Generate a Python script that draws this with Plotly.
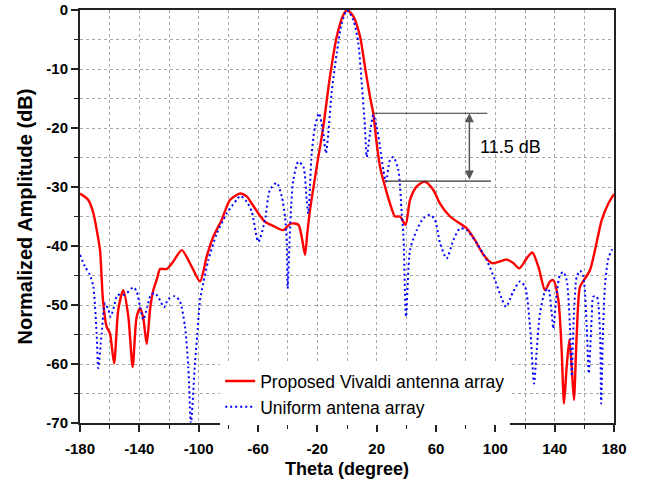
import plotly.graph_objects as go

# Proposed Vivaldi antenna array (red, solid)
theta_prop = [-180, -176.5, -174.4, -171, -168.5, -166.5, -164.5, -162, -159.8, -157,
              -154.2, -150.8, -147.4, -144.5, -141.8, -139.5, -137.5, -135, -132.8, -130.6,
              -128, -126, -121.6, -117.3, -111.4, -104.7, -99.1, -94.6, -90.1, -84.5,
              -78.9, -72, -67.6, -64.2, -58.6, -55.3, -49, -43, -38, -32.8,
              -30.5, -28.3, -26.8, -25, -20.4, -16, -11.5, -6.9, -2.5, 0,
              4.3, 8.8, 12.1, 15.5, 17.7, 20, 22.3, 25.6, 29, 32.4,
              35.7, 39.5, 42.5, 47, 52.6, 58.2, 62.7, 69.5, 76.2, 80.7,
              86.3, 92, 97.6, 102, 107.7, 112.1, 116.2, 121.1, 124.9, 129,
              133.5, 136.9, 139.1, 142.5, 144.7, 146.3, 148.1, 149.9, 151.5, 153,
              154.9, 157.1, 160.5, 163.8, 167.2, 171.7, 176.2, 180]
amp_prop = [-31.1, -31.7, -32.2, -34.4, -37.6, -40.7, -49.2, -53.7, -54.8, -59.9,
            -50.8, -47.5, -52.0, -60.5, -52.0, -50.6, -52.0, -56.6, -50.8, -47.5,
            -45.5, -43.9, -43.9, -42.7, -40.7, -43.5, -46.0, -41.8, -38.4, -35.6,
            -32.2, -31.1, -31.6, -32.8, -34.9, -35.9, -36.7, -37.3, -36.2, -36.4,
            -38.5, -41.5, -37.9, -34.0, -26.6, -19.8, -11.3, -4.5, -0.85, 0,
            -1.1, -4.5, -9.6, -14.7, -17.5, -22.6, -26.6, -29.9, -32.8, -35.0,
            -35.0, -36.4, -32.2, -29.9, -29.1, -30.5, -32.8, -35.0, -36.2, -37.0,
            -39.0, -41.5, -42.9, -42.7, -42.3, -42.9, -43.8, -42.1, -41.1, -43.5,
            -47.5, -46.0, -45.8, -49.2, -57.6, -66.7, -60.5, -55.9, -60.5, -66.1,
            -54.8, -46.9, -45.5, -44.1, -40.7, -35.6, -32.8, -31.2]

# Uniform antenna array (blue, dotted)
theta_uni = [-180, -176.6, -173.3, -171, -168.8, -167.7, -165.4, -163.1, -160.9, -159.3,
             -157.1, -154.8, -150.8, -148.5, -144, -141.8, -139.5, -137.3, -134.6, -132.3,
             -129.4, -126, -123.4, -120.5, -116, -112.6, -109.2, -107, -105.2, -102.5,
             -100.9, -99.1, -96.9, -93.5, -87.8, -81.1, -74.4, -72, -67.6, -64.2,
             -59.8, -55.3, -52, -47.4, -44, -41.8, -40.6, -40, -38.8, -37.6,
             -36.2, -32.8, -29.4, -27.2, -26.1, -23.8, -21.6, -18.9, -16, -14.2,
             -12.6, -10.4, -6.9, -3.6, 0, 4.3, 7.6, 9.9, 12.1, 13.3,
             15.5, 17.7, 20, 22.3, 24.5, 26.3, 29, 31.2, 34.6, 36.9,
             38, 39.8, 42.5, 47, 51.5, 56, 59.3, 62.7, 67.2, 71.7,
             76.2, 80.7, 87.4, 94.2, 99.8, 104.3, 107.2, 112.1, 116.6, 120,
             123.4, 126.1, 127.9, 130.1, 133.5, 135.7, 138, 139.1, 141.4, 143.6,
             145.8, 148.1, 150.3, 151.5, 153, 154.9, 157.1, 159.3, 161.6, 163,
             165, 166.1, 168.4, 170.6, 171.3, 172.4, 174, 176.2, 178.5, 180]
amp_uni = [-41.5, -43.5, -44.9, -46.9, -54.8, -60.7, -54.8, -49.7, -50.8, -52.0,
           -50.3, -48.3, -48.3, -48.0, -47.0, -47.7, -50.3, -52.5, -50.3, -48.3,
           -48.0, -49.2, -50.4, -49.0, -48.5, -49.4, -53.7, -60.5, -70.0, -59.9,
           -54.8, -49.2, -46.3, -42.4, -37.9, -34.5, -32.2, -31.5, -32.5, -34.2,
           -39.3, -35.6, -30.5, -29.3, -31.6, -35.0, -39.5, -47.2, -39.5, -33.0,
           -28.8, -25.7, -26.6, -32.2, -34.5, -24.3, -19.8, -17.5, -20.9, -24.3,
           -20.9, -14.1, -7.3, -2.3, 0, -1.7, -5.6, -12.4, -19.8, -24.9,
           -20.9, -17.8, -19.8, -23.2, -27.1, -29.1, -25.4, -24.9, -27.1, -34.5,
           -37.9, -52.0, -40.7, -37.3, -35.3, -34.7, -35.6, -39.5, -42.1, -39.0,
           -37.0, -37.3, -39.5, -42.4, -45.8, -48.9, -50.3, -47.7, -46.0, -46.9,
           -53.7, -63.3, -57.6, -51.4, -47.7, -47.2, -51.4, -54.0, -48.0, -44.9,
           -44.4, -45.8, -53.7, -62.1, -51.4, -45.2, -44.2, -45.2, -53.7, -61.6,
           -52.0, -48.6, -48.6, -54.8, -66.7, -55.9, -46.3, -42.1, -40.7, -40.3]

x_ticks = [-180, -140, -100, -60, -20, 20, 60, 100, 140, 180]
y_ticks = [0, -10, -20, -30, -40, -50, -60, -70]

# 11.5 dB annotation levels
sll_top = -17.5
sll_bot = -29.0

FONT = "Liberation Sans, Arial, sans-serif"

fig = go.Figure()
fig.add_trace(go.Scatter(x=theta_prop, y=amp_prop, mode="lines",
                         name="Proposed Vivaldi antenna array",
                         line=dict(color="#ff0000", width=2.4, shape="spline", smoothing=0.7)))
fig.add_trace(go.Scatter(x=theta_uni, y=amp_uni, mode="lines",
                         name="Uniform antena array",
                         line=dict(color="#0000ff", width=2, dash="2px,3px", shape="spline", smoothing=0.7)))

# annotation lines
fig.add_shape(type="line", x0=17.7, x1=94.6, y0=sll_top, y1=sll_top,
              line=dict(color="#333333", width=1.2), layer="above")
fig.add_shape(type="line", x0=25.6, x1=97.0, y0=sll_bot, y1=sll_bot,
              line=dict(color="#333333", width=1.2), layer="above")
fig.add_annotation(x=82.5, y=sll_top, ax=82.5, ay=sll_bot, axref="x", ayref="y",
                   xref="x", yref="y", text="", showarrow=True,
                   arrowhead=2, startarrowhead=2, arrowside="end+start",
                   arrowsize=1.2, arrowwidth=1.5, arrowcolor="#555555",
                   startstandoff=0, standoff=0)
fig.add_annotation(x=88.5, y=(sll_top + sll_bot) / 2, xref="x", yref="y",
                   text="11.5 dB", showarrow=False, xanchor="left", yanchor="middle",
                   font=dict(family=FONT, size=18, color="#000000"))

fig.update_layout(
    width=646, height=486,
    margin=dict(l=80, r=32, t=10, b=63),
    paper_bgcolor="white", plot_bgcolor="white",
    font=dict(family=FONT, color="#000000"),
    showlegend=True,
    legend=dict(x=0.2625, y=0.145, xanchor="left", yanchor="top",
                bgcolor="white", borderwidth=0,
                font=dict(family=FONT, size=17.5, color="#000000"),
                tracegroupgap=0, itemwidth=30),
    xaxis=dict(range=[-180, 180], tickvals=x_ticks, ticktext=[str(v) for v in x_ticks],
               automargin=False,
               showline=True, linecolor="#222222", linewidth=2, mirror=True,
               ticks="outside", ticklen=7, tickwidth=1.5, tickcolor="#222222",
               tickfont=dict(family=FONT, size=15, color="#000000", weight="bold"),
               showgrid=True, griddash="dot", gridcolor="#a8a8a8", gridwidth=1,
               minor=dict(dtick=20, tick0=-180, ticks="outside", ticklen=4, tickwidth=1.2,
                          tickcolor="#222222", showgrid=True, griddash="dot",
                          gridcolor="#a8a8a8", gridwidth=1),
               zeroline=False, ticklabelstandoff=4,
               title=dict(text="<b>Theta (degree)</b>", standoff=6,
                          font=dict(family=FONT, size=18, color="#000000"))),
    yaxis=dict(range=[-70, 0], tickvals=y_ticks, ticktext=[str(v) for v in y_ticks],
               automargin=False,
               showline=True, linecolor="#222222", linewidth=2, mirror=True,
               ticks="outside", ticklen=7, tickwidth=1.5, tickcolor="#222222",
               tickfont=dict(family=FONT, size=15, color="#000000", weight="bold"),
               showgrid=True, griddash="dot", gridcolor="#a8a8a8", gridwidth=1,
               minor=dict(dtick=5, tick0=0, ticks="outside", ticklen=4, tickwidth=1.2,
                          tickcolor="#222222", showgrid=True, griddash="dot",
                          gridcolor="#a8a8a8", gridwidth=1),
               zeroline=False,
               title=dict(text="<b>Normalized Amplitude (dB)</b>", standoff=8,
                          font=dict(family=FONT, size=20, color="#000000"))),
)

fig.write_html("out.html")
